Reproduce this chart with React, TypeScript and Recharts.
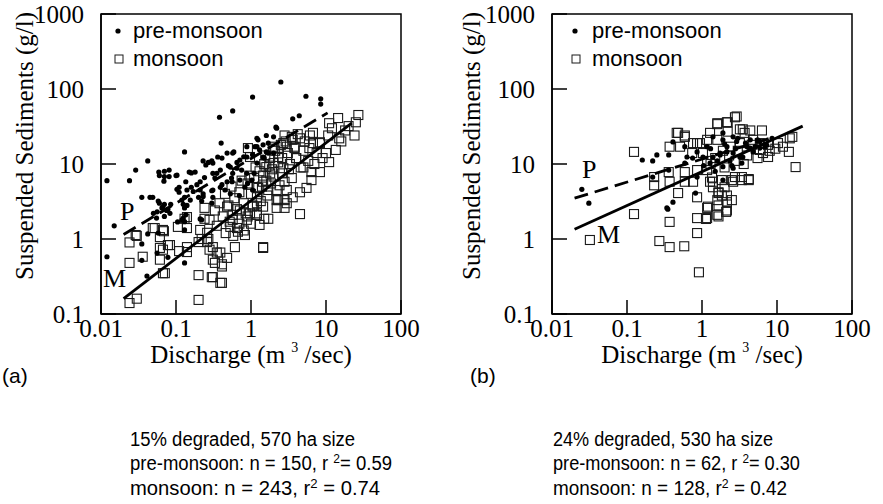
import { ScatterChart, Scatter, XAxis, YAxis, ReferenceArea, Legend } from 'recharts'

type Pt = [number, number]

// axis ticks (log scales)
const dischargeTicks = [0.01, 0.1, 1, 10, 100]
const sedimentTicks = [0.1, 1, 10, 100, 1000]

// (a) 15% degraded, 570 ha — [discharge m3/s, suspended sediment g/l]
const preMonsoonA: Pt[] = [
  [0.012, 6], [0.012, 0.58], [0.015, 1.5], [0.024, 6], [0.029, 8.3], [0.042, 11], [0.035, 3.6], [0.049, 3.6],
  [0.035, 0.86], [0.035, 0.52], [0.041, 0.32], [0.059, 7.8], [0.06, 7], [0.07, 8], [0.07, 6.8], [0.1, 7],
  [0.06, 3.0], [0.065, 2.6], [0.07, 2.9], [0.075, 2.4], [0.085, 2.9], [0.05, 2.2], [0.055, 1.9], [0.07, 2.0],
  [0.13, 14.5], [0.15, 7.8], [0.16, 7.6], [0.11, 4.9], [0.11, 4.2], [0.13, 3.6], [0.16, 4.9], [0.17, 4.3],
  [0.12, 3.3], [0.125, 2.9], [0.13, 2.6], [0.125, 1.9], [0.13, 1.7], [0.13, 0.48], [0.23, 11], [0.27, 10.5],
  [0.21, 5.8], [0.24, 6.6], [0.31, 7.5], [0.21, 4.5], [0.3, 4.4], [0.23, 3.7], [0.31, 3.6], [0.21, 1.85],
  [0.38, 42], [0.57, 51], [0.4, 19], [0.31, 10.3], [0.36, 12.4], [0.48, 14], [0.57, 14], [0.39, 8.3],
  [0.53, 9.1], [0.57, 7.5], [0.48, 5.8], [1.05, 78], [2.5, 124], [5.4, 80], [8.5, 74], [8.5, 63],
  [3.6, 40], [4.4, 44], [2.15, 31], [1.6, 24], [1.24, 21], [0.88, 17], [1.13, 17], [0.88, 12.4],
  [0.71, 11.3], [1.2, 10.3], [1.45, 12.4], [1.7, 14], [0.75, 8.3], [0.88, 7.5], [1.03, 6.1], [0.83, 4.9],
  [1.05, 4.5], [0.39, 4.9], [0.31, 4.5], [0.53, 4.0], [0.056, 0.65], [0.078, 0.57], [0.13, 1.32], [0.105, 1.69],
  [0.135, 2.1], [0.12, 1.8], [0.042, 1.17], [0.058, 1.2], [0.22, 1.8], [0.081, 8.3], [0.081, 6.8], [0.103, 7.1],
  [0.069, 5.9], [0.18, 7.8], [0.135, 5.8], [0.25, 9.7], [0.3, 11], [0.41, 12], [0.59, 14.5], [0.65, 8.8],
  [0.33, 6.5], [0.41, 5.3], [0.56, 5.8], [0.71, 6.1], [0.103, 4.6], [0.14, 4.5], [0.19, 5.3], [0.23, 4.0],
  [2.2, 30], [1.2, 22], [2.0, 23], [1.7, 19], [1.45, 18], [1.2, 17], [1.3, 15.5], [1.6, 14.5],
  [2.0, 14], [1.05, 13.3], [1.5, 12], [0.045, 3.6], [0.058, 3.2], [0.067, 2.7], [0.078, 2.5], [0.083, 2.2],
  [0.056, 2.3], [0.14, 2.8], [0.155, 3.3], [0.2, 3.6], [0.22, 3.2], [0.3, 3.0], [0.45, 4.5], [0.55, 6.5],
  [0.7, 3.8], [0.9, 5.5], [1.1, 7.5], [0.65, 10.5], [0.8, 12.5], [0.5, 9.5], [0.35, 7.5],
]

const monsoonA: Pt[] = [
  [0.024, 0.48], [0.03, 0.16], [0.024, 0.14], [0.03, 1.1], [0.024, 0.9], [0.036, 0.58], [0.049, 1.4], [0.069, 1.27],
  [0.061, 1.06], [0.106, 1.45], [0.078, 0.83], [0.067, 0.72], [0.061, 0.53], [0.11, 0.69], [0.14, 0.67], [0.071, 0.35],
  [0.14, 1.96], [0.2, 0.33], [0.2, 0.154], [0.31, 0.31], [0.41, 0.26], [0.24, 2.6], [0.2, 0.91], [0.26, 0.91],
  [0.28, 0.72], [0.35, 0.66], [0.31, 0.53], [0.41, 0.46], [0.48, 0.56], [0.61, 0.78], [0.48, 2.7], [0.57, 2.1],
  [0.65, 1.4], [0.83, 1.13], [4.5, 2.15], [1.45, 0.76], [1.3, 1.54], [1.7, 1.86], [2.2, 2.6], [2.8, 2.6],
  [2.2, 3.3], [2.8, 3.3], [3.6, 3.6], [1.05, 2.7], [1.2, 2.1], [27, 45], [25, 36], [24, 24],
  [14.5, 41], [11, 35], [10.7, 24], [8.3, 19], [6.7, 19], [6.1, 24], [4.5, 22], [3.5, 23],
  [2.7, 19], [13.5, 15.4], [11, 10.6], [8.3, 7.8], [6.4, 7.8], [6.4, 6.1], [5.5, 4.8], [4.5, 4.2],
  [6.7, 26], [8.3, 19.5], [6, 16.3], [7.5, 14], [2.8, 24], [3.6, 21], [3, 17], [3.8, 16.3],
  [2.0, 17], [2.3, 12.4], [2.0, 10.3], [1.6, 9.1], [1.8, 7.5], [1.45, 5.8], [1.2, 4.9], [2.6, 7.5],
  [2.8, 5.8], [2.2, 4.5], [3.0, 4.5], [2.3, 3.3], [3.0, 3.0], [0.91, 16.3], [0.97, 12.4], [1.2, 3.0],
  [1.45, 2.7], [1.5, 1.86], [1.2, 2.2], [0.97, 2.2], [0.88, 1.8], [0.71, 2.4], [0.57, 1.8], [0.53, 1.45],
  [0.67, 1.25], [1.45, 0.78], [0.27, 1.0], [0.31, 0.78], [0.39, 0.66], [0.33, 0.48], [0.41, 0.43], [0.3, 0.31],
  [0.39, 0.26], [0.24, 1.86], [0.28, 1.8], [0.21, 1.32], [0.26, 1.21], [0.22, 1.0], [0.13, 1.86], [0.14, 1.4],
  [0.067, 1.32], [0.052, 1.4], [0.083, 0.83], [0.061, 0.76], [0.14, 0.78], [0.029, 1.13], [0.067, 0.35],
  [0.6, 3.5], [0.7, 4.2], [0.8, 3.0], [0.9, 5.5], [1.0, 4.0], [1.1, 6.5], [1.2, 3.6], [1.3, 8.0],
  [1.4, 5.0], [1.5, 10], [1.6, 6.0], [1.7, 4.5], [1.8, 12], [1.9, 8.5], [2.0, 6.8], [2.1, 15],
  [2.3, 10.5], [2.4, 5.2], [2.5, 18], [2.6, 12], [2.7, 8.8], [2.9, 20], [3.1, 14], [3.3, 10],
  [3.5, 6.5], [3.8, 17], [4.0, 12], [4.2, 25], [4.6, 9], [5.0, 15], [5.2, 20], [5.8, 11],
  [0.5, 2.8], [0.55, 5.0], [0.65, 2.5], [0.75, 6], [0.85, 2.2], [0.95, 7], [1.05, 2.8], [1.15, 9],
  [1.25, 4.8], [1.35, 3.2], [1.45, 7], [1.55, 13], [1.65, 3.8], [1.75, 9.5], [1.85, 5.5], [1.95, 16],
  [0.45, 4.0], [0.42, 2.0], [0.38, 3.0], [0.35, 1.5], [0.33, 2.4], [0.46, 1.2], [0.52, 1.7], [0.58, 1.1],
  [0.7, 1.6], [0.8, 1.3], [0.9, 2.0], [1.0, 1.6], [16, 20], [18, 28], [12, 30], [20, 32],
  [9, 12], [5, 9], [4, 12], [3.2, 8.5], [7, 10], [10, 14], [15, 22],
]

const fitPreA: Pt[] = [[0.02, 1.15], [10.5, 48]]
const fitMonA: Pt[] = [[0.02, 0.16], [22, 35]]

// (b) 24% degraded, 530 ha
const preMonsoonB: Pt[] = [
  [0.025, 4.6], [0.031, 3.0], [0.16, 11.3], [0.22, 11], [0.25, 13.2], [0.22, 6.7], [0.36, 13.2], [0.36, 8.3],
  [0.41, 19.7], [0.41, 3.1], [0.35, 2.5], [0.59, 17], [0.63, 12.4], [0.59, 10.3], [0.86, 6.7], [0.82, 4.1],
  [0.86, 14.5], [1.03, 12.4], [1.17, 17], [1.28, 10.3], [1.4, 12.4], [1.74, 14], [1.9, 21], [2.15, 17],
  [2.36, 11], [2.6, 14], [2.9, 20], [3.2, 12.4], [3.4, 10.3], [4.0, 17], [4.4, 21], [5.1, 17],
  [5.9, 20], [6.9, 17], [8.6, 22], [2.6, 8.8], [1.9, 6.1], [1.4, 23], [1.9, 26], [2.6, 23],
  [0.34, 2.6], [1.6, 11], [1.74, 13.2], [2.15, 14.5], [1.9, 9.2], [2.5, 9.5], [3.5, 12.4], [4.4, 16.3],
  [4.8, 14.5], [5.9, 16.3], [7.3, 17.8], [1.05, 9.5], [1.3, 16], [2.0, 18.5], [2.8, 16], [3.0, 22],
  [3.8, 19], [5.5, 21], [1.5, 8], [0.75, 12],
]

const monsoonB: Pt[] = [
  [0.032, 0.97], [0.124, 2.15], [0.124, 14.5], [0.23, 6.7], [0.23, 5.2], [0.37, 1.69], [0.27, 0.94], [0.37, 0.78],
  [0.58, 0.8], [0.86, 1.2], [0.86, 1.9], [1.13, 1.85], [0.91, 0.36], [0.37, 17], [0.36, 7.8], [0.37, 5.8],
  [0.48, 4.1], [0.46, 26], [0.59, 23], [0.59, 7.8], [0.59, 5.8], [0.76, 5.8], [0.86, 3.6], [0.86, 8.3],
  [0.86, 19], [1.17, 2.6], [1.6, 3.3], [1.66, 2.0], [2.1, 2.3], [2.15, 3.1], [1.84, 3.8], [2.0, 4.9],
  [2.6, 5.8], [2.75, 6.7], [3.4, 6.1], [4.2, 6.1], [1.17, 8.3], [1.28, 5.8], [1.4, 4.9], [1.66, 4.2],
  [1.17, 11], [1.6, 34], [2.15, 36], [2.75, 42], [2.2, 27], [3.2, 29], [3.7, 26], [4.4, 28],
  [6.3, 28], [4.8, 21], [5.9, 19], [7.6, 18], [10.3, 19], [14.8, 22], [14.4, 14.5], [17.7, 9.1],
  [7.6, 12.4], [5.9, 15.4], [1.6, 21], [1.28, 26], [1.17, 21], [0.94, 19], [0.76, 19], [0.59, 24],
  [0.48, 26], [0.51, 17], [0.74, 14], [1.03, 14], [1.6, 2.1], [1.17, 1.9], [1.2, 2.7], [1.66, 2.8],
  [2.15, 2.4], [2.5, 3.3], [2.15, 3.8], [1.66, 4.1], [1.4, 5.8], [1.36, 6.6], [1.84, 6.1], [2.5, 6.1],
  [3.4, 6.7], [4.2, 6.3], [16, 23], [2.9, 43], [2.2, 36], [1.6, 35], [3.5, 29], [1.3, 10],
  [1.5, 12], [2.0, 9], [2.3, 13], [2.8, 11], [3.0, 15], [3.6, 10], [4.0, 13], [4.6, 18],
  [5.5, 12], [2.4, 17], [3.2, 19], [1.9, 15], [6.5, 14], [8.0, 15], [9.5, 16], [12, 17],
]

const fitPreB: Pt[] = [[0.02, 3.5], [8, 22]]
const fitMonB: Pt[] = [[0.02, 1.35], [22, 32]]

const toRows = (pts: Pt[]) => pts.map(([q, s]) => ({ q, s }))

const serif = "'Liberation Serif', 'Times New Roman', serif"
const sans = "'Liberation Sans', Arial, sans-serif"

const Dot = (p: any) => <circle cx={p.cx} cy={p.cy} r={2.6} fill="#000" />
const Box = (p: any) => (
  <rect x={p.cx - 4.5} y={p.cy - 4.5} width={9} height={9} fill="none" stroke="#1a1a1a" strokeWidth={1.1} />
)
const NoMark = () => <g />

function SeasonLegend({ gap }: { gap: number }) {
  return (
    <div style={{ fontFamily: sans, fontSize: 22, lineHeight: '28px', color: '#000' }}>
      <div style={{ display: 'flex', alignItems: 'center' }}>
        <svg width={gap} height={12}>
          <circle cx={6} cy={6} r={2.6} fill="#000" />
        </svg>
        pre-monsoon
      </div>
      <div style={{ display: 'flex', alignItems: 'center' }}>
        <svg width={gap} height={12}>
          <rect x={3} y={2} width={8} height={8} fill="none" stroke="#1a1a1a" strokeWidth={1} />
        </svg>
        monsoon
      </div>
    </div>
  )
}

interface PanelProps {
  left: number
  pre: Pt[]
  mon: Pt[]
  fitPre: Pt[]
  fitMon: Pt[]
  legendLeft: number
  legendGap: number
}

function Panel({ left, pre, mon, fitPre, fitMon, legendLeft, legendGap }: PanelProps) {
  return (
    <div style={{ position: 'absolute', left, top: 0 }}>
      <ScatterChart width={420} height={400} margin={{ top: 14, right: 19, bottom: 26, left: 0 }}>
        <XAxis
          type="number"
          dataKey="q"
          scale="log"
          domain={[0.01, 100]}
          allowDataOverflow
          ticks={dischargeTicks}
          interval={0}
          height={60}
          tickSize={-14}
          tickMargin={19}
          axisLine={{ stroke: '#000', strokeWidth: 1.5 }}
          tickLine={{ stroke: '#000', strokeWidth: 1.5 }}
          tick={{ fontFamily: serif, fontSize: 25, fill: '#000' }}
        />
        <YAxis
          type="number"
          dataKey="s"
          scale="log"
          domain={[0.1, 1000]}
          allowDataOverflow
          ticks={sedimentTicks}
          interval={0}
          width={101}
          tickSize={-15}
          tickMargin={32}
          axisLine={{ stroke: '#000', strokeWidth: 1.5 }}
          tickLine={{ stroke: '#000', strokeWidth: 1.5 }}
          tick={{ fontFamily: serif, fontSize: 25, fill: '#000' }}
        />
        <ReferenceArea x1={0.01} x2={100} y1={0.1} y2={1000} fill="none" stroke="#000" strokeWidth={1.5} />
        <Scatter data={toRows(mon)} shape={Box} isAnimationActive={false} />
        <Scatter data={toRows(pre)} shape={Dot} isAnimationActive={false} />
        <Scatter
          data={toRows(fitPre)}
          shape={NoMark}
          line={{ stroke: '#000', strokeWidth: 2.8, strokeDasharray: '14 7' }}
          isAnimationActive={false}
        />
        <Scatter
          data={toRows(fitMon)}
          shape={NoMark}
          line={{ stroke: '#000', strokeWidth: 2.8 }}
          isAnimationActive={false}
        />
        <Legend
          layout="vertical"
          align="center"
          verticalAlign="middle"
          wrapperStyle={{ left: legendLeft, top: 17, width: 'auto', height: 'auto' }}
          content={() => <SeasonLegend gap={legendGap} />}
        />
      </ScatterChart>
    </div>
  )
}

interface NotesProps {
  x: number
  lines: [string, string, string, string, string]
  widths: [number, number, number]
}

// condensed caption below each panel
function Notes({ x, lines, widths }: NotesProps) {
  const fit = { lengthAdjust: 'spacingAndGlyphs' as const }
  return (
    <g fontFamily={sans} fontSize={20} fill="#000" style={{ whiteSpace: 'pre' }}>
      <text x={x} y={446} textLength={widths[0]} {...fit}>{lines[0]}</text>
      <text x={x} y={470} textLength={widths[1]} {...fit}>
        {lines[1]}
        <tspan fontSize={13} dy={-7}>2</tspan>
        <tspan dy={7}>{lines[2]}</tspan>
      </text>
      <text x={x} y={495} textLength={widths[2]} {...fit}>
        {lines[3]}
        <tspan fontSize={13} dy={-7}>2</tspan>
        <tspan dy={7}>{lines[4]}</tspan>
      </text>
    </g>
  )
}

export default function App() {
  return (
    <div style={{ position: 'absolute', left: 0, top: 0, width: 883, height: 504, background: '#fff' }}>
      <Panel left={0} pre={preMonsoonA} mon={monsoonA} fitPre={fitPreA} fitMon={fitMonA} legendLeft={112} legendGap={21} />
      <Panel left={451} pre={preMonsoonB} mon={monsoonB} fitPre={fitPreB} fitMon={fitMonB} legendLeft={118} legendGap={23} />
      <svg
        width={883}
        height={504}
        style={{ position: 'absolute', left: 0, top: 0, pointerEvents: 'none' }}
      >
        <g fontFamily={serif} fontSize={25} fill="#000" style={{ whiteSpace: 'pre' }}>
          <text transform="translate(33,146) rotate(-90)" textAnchor="middle">Suspended Sediments  (g/l)</text>
          <text transform="translate(480,146) rotate(-90)" textAnchor="middle">Suspended Sediments (g/l)</text>
          <text x={251} y={363} textAnchor="middle">
            Discharge (m <tspan fontSize={14} dy={-11}>3</tspan><tspan dy={11}> /sec)</tspan>
          </text>
          <text x={702} y={363} textAnchor="middle">
            Discharge (m <tspan fontSize={14} dy={-11}>3</tspan><tspan dy={11}> /sec)</tspan>
          </text>
          <text x={120} y={220} fontSize={26}>P</text>
          <text x={103} y={287} fontSize={26}>M</text>
          <text x={582} y={178} fontSize={26}>P</text>
          <text x={597} y={243} fontSize={26}>M</text>
        </g>
        <g fontFamily={sans} fontSize={21} fill="#000">
          <text x={2} y={383}>(a)</text>
          <text x={470} y={383}>(b)</text>
        </g>
        <Notes
          x={130}
          lines={['15% degraded, 570 ha size', 'pre-monsoon: n = 150, r ', '= 0.59', 'monsoon: n = 243, r', ' = 0.74']}
          widths={[225, 262, 250]}
        />
        <Notes
          x={553}
          lines={['24% degraded, 530 ha size', 'pre-monsoon: n = 62, r ', '= 0.30', 'monsoon: n = 128, r', ' = 0.42']}
          widths={[220, 247, 234]}
        />
      </svg>
    </div>
  )
}
